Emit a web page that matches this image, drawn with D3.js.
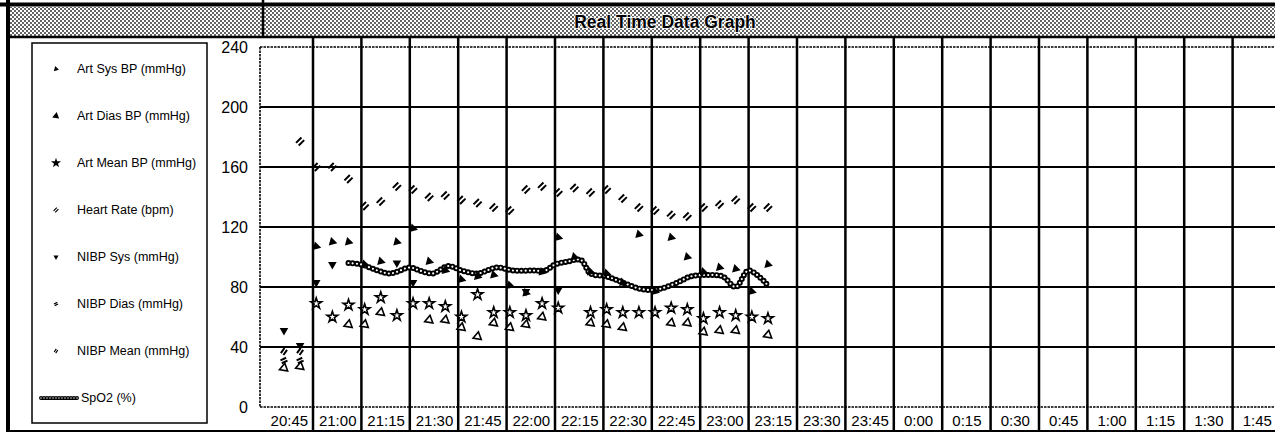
<!DOCTYPE html>
<html>
<head>
<meta charset="utf-8">
<script src="https://cdnjs.cloudflare.com/ajax/libs/d3/7.8.5/d3.min.js"></script>
<style>
    body { margin: 0; background: #fff; }
    svg { display: block; font-family: Arial, "Liberation Sans", sans-serif; }
    .tick-label { font-family: "Liberation Sans Narrow", "Arial Narrow", Arial, sans-serif; }
</style>
</head>
<body>
<svg id="chart" width="1275" height="432"></svg>
<script>
// column labels, one per 15 min
var columnLabels = ["20:45", "21:00", "21:15", "21:30", "21:45", "22:00", "22:15", "22:30", "22:45", "23:00",
    "23:15", "23:30", "23:45", "0:00", "0:15", "0:30", "0:45", "1:00", "1:15", "1:30", "1:45"];
var yTicks = [0, 40, 80, 120, 160, 200, 240];

// monitor samples (every 5 min)
var artTime = ["20:51", "20:56", "21:01", "21:06", "21:11", "21:16", "21:21", "21:26", "21:31", "21:36",
    "21:41", "21:46", "21:51", "21:56", "22:01", "22:06", "22:11", "22:16", "22:21", "22:26",
    "22:31", "22:36", "22:41", "22:46", "22:51", "22:56", "23:01", "23:06", "23:11", "23:16", "23:21"];
var artSys = [null, null, 107, 110, 110, 95, 97, 110, 119, 97, 91, 85, 87, 88, 81, 76, 90, 113, 100, 90,
    89, 83, 115, 77, 113, 100, 90, 93, 92, 77, 95];
var artMean = [null, null, 69, 60, 68, 65, 73, 61, 69, 69, 67, 60, 75, 63, 63, 61, 69, 66, null, 63,
    65, 63, 63, 63, 66, 65, 59, 63, 61, 60, 59];
var artDias = [26, 27, null, null, 55, 55, 63, null, null, 58, 58, 53, 47, 56, 53, 55, 60, null, null, 56,
    55, 53, null, null, 56, 56, 50, 51, 51, null, 48];
var heartRate = [null, 177, 160, 160, 152, 134, 137, 147, 145, 140, 141, 138, 136, 133, 131, 145, 147, 143, 146, 143,
    145, 139, 133, 131, 128, 127, 133, 135, 138, 133, 133];

var nibpSysTime = ["20:51", "20:56", "21:01", "21:06", "21:26", "21:31", "22:06", "22:16"];
var nibpSys = [51, 41, 83, 95, 96, 83, 77, 78];
var nibpMeanTime = ["20:51", "20:56"];
var nibpMean = [37, 37];
var nibpDiasTime = ["20:51", "20:56"];
var nibpDias = [31, 31];

var spo2Time = ["21:11", "21:15", "21:20", "21:24", "21:30", "21:33", "21:37", "21:42", "21:46", "21:51",
    "21:57", "22:02", "22:08", "22:12", "22:15", "22:19", "22:23", "22:26", "22:31", "22:36",
    "22:41", "22:45", "22:48", "22:53", "22:57", "23:02", "23:07", "23:11", "23:15", "23:21"];
var spo2 = [96, 95, 91, 89, 93, 91, 89, 94, 91, 89, 93, 91, 91, 91, 95, 97, 98, 89, 87, 83,
    79, 78, 79, 83, 87, 88, 87, 80, 91, 81];

var legendNames = ["Art Sys BP (mmHg)", "Art Dias BP (mmHg)", "Art Mean BP (mmHg)", "Heart Rate (bpm)",
    "NIBP Sys (mmHg)", "NIBP Dias (mmHg)", "NIBP Mean (mmHg)", "SpO2 (%)"];

// minutes since 20:45
function toMin(s) {
    var p = s.split(":");
    var h = +p[0], m = +p[1];
    if (h < 12) h += 24;
    return h * 60 + m - (20 * 60 + 45);
}

var svg = d3.select("#chart");
var W = 1275;

var x = d3.scaleLinear().domain([0, 315]).range([264.6, 1281]);
var y = d3.scaleLinear().domain([0, 240]).range([407, 47]);

// double slash marker for heart rate
var slashPair = {
    draw: function (context, size) {
        var r = Math.sqrt(size) / 2;
        var o = r * 0.35;
        context.moveTo(-r * 0.7 - o, r * 0.7 - o);
        context.lineTo(r * 0.7 - o, -r * 0.7 - o);
        context.moveTo(-r * 0.7 + o, r * 0.7 + o);
        context.lineTo(r * 0.7 + o, -r * 0.7 + o);
    }
};

var series = [
    {name: legendNames[0], t: artTime, v: artSys, type: d3.symbolTriangle, size: 34, fill: "#000", stroke: "none", rot: -15},
    {name: legendNames[1], t: artTime, v: artDias, type: d3.symbolTriangle, size: 30, fill: "#fff", stroke: "#000", rot: 10},
    {name: legendNames[2], t: artTime, v: artMean, type: d3.symbolStar, size: 36, fill: "#fff", stroke: "#000", rot: 0},
    {name: legendNames[3], t: artTime, v: heartRate, type: slashPair, size: 60, fill: "none", stroke: "#000", rot: 0},
    {name: legendNames[4], t: nibpSysTime, v: nibpSys, type: d3.symbolTriangle, size: 32, fill: "#000", stroke: "none", rot: 180},
    {name: legendNames[5], t: nibpDiasTime, v: nibpDias, type: slashPair, size: 40, fill: "none", stroke: "#000", rot: 20},
    {name: legendNames[6], t: nibpMeanTime, v: nibpMean, type: slashPair, size: 40, fill: "none", stroke: "#000", rot: -10}
];

// hatch pattern for header band
var defs = svg.append("defs");
var pat = defs.append("pattern")
    .attr("id", "hatch")
    .attr("width", 4)
    .attr("height", 4)
    .attr("patternUnits", "userSpaceOnUse");
pat.append("rect").attr("width", 4).attr("height", 4).attr("fill", "#fff");
pat.append("circle").attr("cx", 1).attr("cy", 1).attr("r", 0.95).attr("fill", "#222");
pat.append("circle").attr("cx", 3).attr("cy", 3).attr("r", 0.95).attr("fill", "#222");

// header
svg.append("rect")
    .attr("x", 8).attr("y", 7)
    .attr("width", W - 8).attr("height", 30)
    .attr("fill", "url(#hatch)");
svg.append("line").attr("x1", 0).attr("x2", W).attr("y1", 4.5).attr("y2", 4.5)
    .attr("stroke", "#000").attr("stroke-width", 4);
svg.append("line").attr("x1", 8).attr("x2", W).attr("y1", 37).attr("y2", 37)
    .attr("stroke", "#000").attr("stroke-width", 2.5);
svg.append("line").attr("x1", 263).attr("x2", 263).attr("y1", 0).attr("y2", 37)
    .attr("stroke", "#000").attr("stroke-width", 2.5);
svg.append("text")
    .attr("x", 665).attr("y", 28)
    .attr("text-anchor", "middle")
    .style("font-size", "17.5px")
    .style("font-weight", "bold")
    .style("paint-order", "stroke")
    .attr("stroke", "#fff").attr("stroke-width", 1.5)
    .attr("fill", "#000")
    .text("Real Time Data Graph");

// outer frame
svg.append("line").attr("x1", 8).attr("x2", 8).attr("y1", 0).attr("y2", 432)
    .attr("stroke", "#000").attr("stroke-width", 4);
svg.append("line").attr("x1", 8).attr("x2", W).attr("y1", 431).attr("y2", 431)
    .attr("stroke", "#000").attr("stroke-width", 2);

// plot borders (dotted)
var plotBorder = svg.append("g")
    .attr("stroke", "#000")
    .attr("stroke-width", 1.6)
    .attr("stroke-dasharray", "2.5 1");
plotBorder.append("line").attr("x1", 260).attr("x2", W).attr("y1", y(240)).attr("y2", y(240));
plotBorder.append("line").attr("x1", 260).attr("x2", W).attr("y1", y(0)).attr("y2", y(0));
plotBorder.append("line").attr("x1", 260).attr("x2", 260).attr("y1", y(240)).attr("y2", y(0));

// horizontal grid
svg.append("g")
    .selectAll("line")
    .data(yTicks.slice(1, -1))
    .enter()
    .append("line")
    .attr("x1", 260).attr("x2", W)
    .attr("y1", function (d) { return y(d); })
    .attr("y2", function (d) { return y(d); })
    .attr("stroke", "#000")
    .attr("stroke-width", 2);

// vertical grid, through the label row
svg.append("g")
    .selectAll("line")
    .data(d3.range(1, 21))
    .enter()
    .append("line")
    .attr("x1", function (k) { return x(k * 15); })
    .attr("x2", function (k) { return x(k * 15); })
    .attr("y1", 37).attr("y2", 431)
    .attr("stroke", "#000")
    .attr("stroke-width", 2.5);

// y axis labels
var yAxis = svg.append("g")
    .attr("transform", "translate(260,0)")
    .call(d3.axisLeft(y).tickValues(yTicks).tickSize(0).tickPadding(12));
yAxis.select(".domain").remove();
yAxis.selectAll("text")
    .classed("tick-label", true)
    .style("font-size", "16px")
    .style("font-family", null)
    .attr("fill", "#000");
yAxis.attr("font-family", null);

// time labels centred in each column
var xAxis = svg.append("g")
    .attr("transform", "translate(0," + y(0) + ")")
    .call(d3.axisBottom(x)
        .tickValues(d3.range(21).map(function (k) { return k * 15 + 7.5; }))
        .tickFormat(function (d, i) { return columnLabels[i]; })
        .tickSize(0)
        .tickPadding(8));
xAxis.select(".domain").remove();
xAxis.attr("font-family", null);
xAxis.selectAll("text")
    .classed("tick-label", true)
    .style("font-size", "15px")
    .attr("fill", "#000");

// SpO2 line drawn as a chain of rings
var spo2Data = spo2Time.map(function (t, i) { return {m: toMin(t), v: spo2[i]}; });
var spoLine = d3.line()
    .x(function (d) { return x(d.m); })
    .y(function (d) { return y(d.v); })
    .curve(d3.curveCatmullRom);
svg.append("path")
    .datum(spo2Data)
    .attr("d", spoLine)
    .attr("fill", "none")
    .attr("stroke", "#000")
    .attr("stroke-width", 6)
    .attr("stroke-linecap", "round")
    .attr("stroke-dasharray", "0 4.2");
svg.append("path")
    .datum(spo2Data)
    .attr("d", spoLine)
    .attr("fill", "none")
    .attr("stroke", "#fff")
    .attr("stroke-width", 2.2)
    .attr("stroke-linecap", "round")
    .attr("stroke-dasharray", "0 4.2");

// scatter markers
function createMarkers(s) {
    var pts = s.t.map(function (t, i) { return {m: toMin(t), v: s.v[i]}; })
        .filter(function (d) { return d.v != null; });
    svg.append("g")
        .selectAll("path")
        .data(pts)
        .enter()
        .append("path")
        .attr("d", d3.symbol().type(s.type).size(s.size))
        .attr("transform", function (d) {
            return "translate(" + x(d.m) + "," + y(d.v) + ") rotate(" + s.rot + ")";
        })
        .attr("fill", s.fill)
        .attr("stroke", s.stroke)
        .attr("stroke-width", s.type == slashPair ? 2 : 1.6);
}
series.map(createMarkers);

// legend
svg.append("rect")
    .attr("x", 32).attr("y", 43)
    .attr("width", 175).attr("height", 380)
    .attr("fill", "none")
    .attr("stroke", "#000")
    .attr("stroke-width", 1.5);

var legend = svg.append("g");
legendNames.map(function (name, i) {
    var ly = 69 + i * 47;
    var s = series[i];
    if (s) {
        legend.append("path")
            .attr("d", d3.symbol().type(s.type).size(s.size * 0.35))
            .attr("transform", "translate(56," + ly + ") rotate(" + s.rot + ")")
            .attr("fill", s.fill == "#fff" ? "#000" : s.fill)
            .attr("stroke", s.stroke)
            .attr("stroke-width", 1.2);
        legend.append("text")
            .attr("x", 77).attr("y", ly + 4)
            .style("font-size", "12.5px")
            .text(name);
    } else {
        legend.append("line")
            .attr("x1", 41).attr("x2", 80)
            .attr("y1", ly).attr("y2", ly)
            .attr("stroke", "#000")
            .attr("stroke-width", 4)
            .attr("stroke-linecap", "round")
            .attr("stroke-dasharray", "0 3");
        legend.append("line")
            .attr("x1", 41).attr("x2", 80)
            .attr("y1", ly).attr("y2", ly)
            .attr("stroke", "#fff")
            .attr("stroke-width", 1.4)
            .attr("stroke-linecap", "round")
            .attr("stroke-dasharray", "0 3");
        legend.append("text")
            .attr("x", 81).attr("y", ly + 4)
            .style("font-size", "12.5px")
            .text(name);
    }
});
</script>
</body>
</html>
